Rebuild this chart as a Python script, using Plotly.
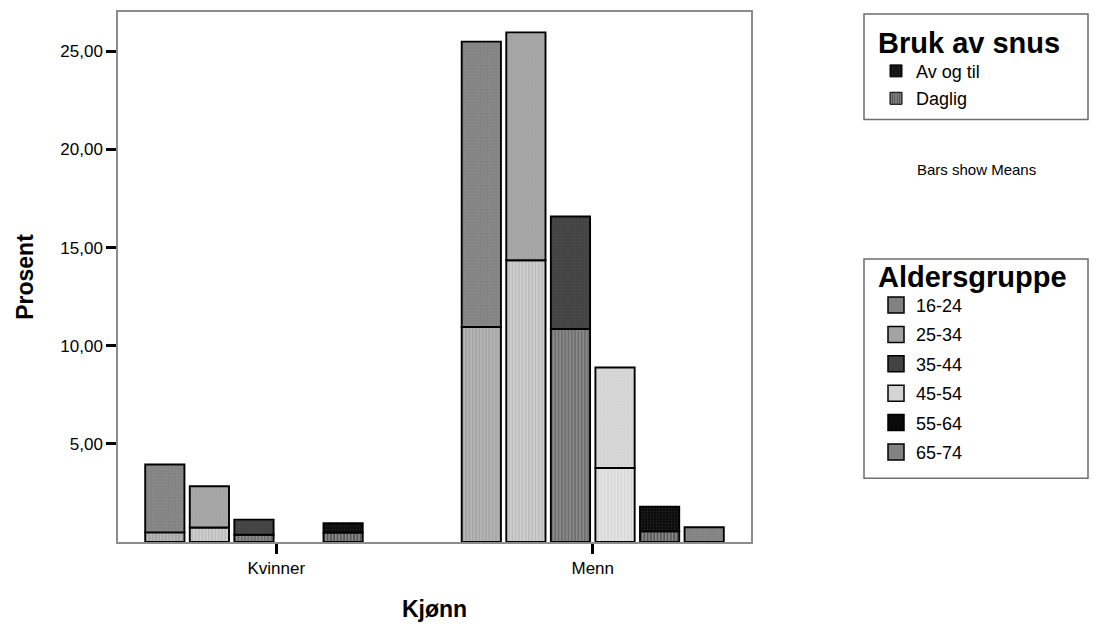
import plotly.graph_objects as go

sexes = ["Kvinner", "Menn"]
age_groups = ["16-24", "25-34", "35-44", "45-54", "55-64", "65-74"]

# Mean percent per age group (order as age_groups); None = no bar
daglig_kvinner = [0.49, 0.74, 0.37, None, 0.48, None]
av_og_til_kvinner = [3.46, 2.10, 0.77, None, 0.48, None]
daglig_menn = [10.95, 14.35, 10.85, 3.77, 0.54, None]
av_og_til_menn = [14.54, 11.61, 5.73, 5.12, 1.26, 0.75]

y_ticks = [5, 10, 15, 20, 25]

# styles
age_color = ["#828282", "#a3a3a3", "#424242", "#d4d4d4", "#0a0a0a", "#828282"]
age_dot = ["#969696", "#b2b2b2", "#565656", "#dedede", "#3a3a3a", "#969696"]
dag_bg = ["#b6b6b6", "#cfcfcf", "#8a8a8a", "#e6e6e6", "#8a8a8a", "#8a8a8a"]
dag_fg = ["#8e8e8e", "#a6a6a6", "#4a4a4a", "#c4c4c4", "#141414", "#141414"]

FONT = "Liberation Sans, Arial, sans-serif"
OFF = 8  # page body margin
W, H = 1100 - OFF, 628 - OFF
# plot area in screen pixels
SL, SR, ST, SB = 118, 751, 10, 542
L, R, T, B = SL - OFF, SR - OFF, ST - OFF, SB - OFF


def px_x(p):
    return (p - SL) / (SR - SL)


def px_y(p):
    return 1 - (p - ST) / (SB - ST)


fig = go.Figure()

for i, age in enumerate(age_groups):
    dag = [daglig_kvinner[i], daglig_menn[i]]
    avo = [av_og_til_kvinner[i], av_og_til_menn[i]]
    base = [d if d is not None else 0 for d in dag]
    fig.add_trace(go.Bar(
        x=sexes, y=dag, name=age + " Daglig", offsetgroup=age,
        legendgroup=age, showlegend=False,
        marker=dict(color=dag_bg[i], line=dict(color="#000000", width=1.9),
                    pattern=dict(shape="|", fgcolor=dag_fg[i], bgcolor=dag_bg[i],
                                 size=3.3, solidity=0.45)),
    ))
    fig.add_trace(go.Bar(
        x=sexes, y=avo, base=base, name=age + " Av og til", offsetgroup=age,
        legendgroup=age, showlegend=False,
        marker=dict(color=age_color[i], line=dict(color="#000000", width=1.9),
                    pattern=dict(shape=".", fgcolor=age_dot[i], bgcolor=age_color[i],
                                 size=3, solidity=0.3)),
    ))

# legend 1: Bruk av snus
fig.add_trace(go.Bar(
    x=[sexes[0]], y=[None], name="Av og til", offsetgroup=age_groups[0],
    legend="legend", legendgroup="avogtil",
    marker=dict(color="#0a0a0a", line=dict(color="#000000", width=1),
                pattern=dict(shape=".", fgcolor="#505050", bgcolor="#0a0a0a", size=3, solidity=0.35)),
))
fig.add_trace(go.Bar(
    x=[sexes[0]], y=[None], name="Daglig", offsetgroup=age_groups[0],
    legend="legend", legendgroup="daglig",
    marker=dict(color="#8a8a8a", line=dict(color="#000000", width=1),
                pattern=dict(shape="|", fgcolor="#141414", bgcolor="#8a8a8a", size=3, solidity=0.45)),
))

# legend 2: Aldersgruppe
for i, age in enumerate(age_groups):
    fig.add_trace(go.Scatter(
        x=[None], y=[None], mode="markers", name=age, legend="legend2",
        legendgroup=age,
        marker=dict(symbol="square", size=16, color=age_color[i],
                    line=dict(color="#000000", width=1.5)),
    ))

fig.update_layout(
    width=W, height=H,
    margin=dict(l=L, r=W - R, t=T, b=H - B, pad=0),
    paper_bgcolor="white", plot_bgcolor="white",
    barmode="group", bargap=0.155, bargroupgap=0.12,
    separators=", ",
    font=dict(family=FONT, color="#000000", size=15),
    showlegend=True,
    legend=dict(
        title=dict(text="<b>Bruk av snus</b>", font=dict(size=29, family=FONT)),
        x=px_x(876), y=px_y(13), xanchor="left", yanchor="top",
        bgcolor="rgba(0,0,0,0)", borderwidth=0,
        font=dict(size=18, family=FONT), tracegroupgap=1, itemwidth=30,
    ),
    legend2=dict(
        title=dict(text="<b>Aldersgruppe</b>", font=dict(size=29, family=FONT)),
        x=px_x(876), y=px_y(248), xanchor="left", yanchor="top",
        bgcolor="rgba(0,0,0,0)", borderwidth=0,
        font=dict(size=18, family=FONT), tracegroupgap=3, itemwidth=30,
    ),
    xaxis=dict(
        type="category", range=[-0.5, 1.5],
        showline=True, linecolor="#8c8c8c", linewidth=1.5, mirror=True,
        ticks="outside", ticklen=10, tickwidth=3, tickcolor="#000000",
        showgrid=False, zeroline=False,
        tickfont=dict(size=17, family=FONT),
        title=dict(text="<b>Kjønn</b>", font=dict(size=23, family=FONT), standoff=24),
    ),
    yaxis=dict(
        range=[0, 27], tickvals=y_ticks, tickformat=".2f",
        showline=True, linecolor="#8c8c8c", linewidth=1.5, mirror=True,
        ticks="outside", ticklen=10, tickwidth=3, tickcolor="#000000",
        showgrid=False, zeroline=False,
        tickfont=dict(size=17, family=FONT),
        title=dict(text="<b>Prosent</b>", font=dict(size=23, family=FONT), standoff=20),
        automargin=True,
    ),
    shapes=[
        dict(type="rect", xref="paper", yref="paper",
             x0=px_x(864), x1=px_x(1088), y0=px_y(12), y1=px_y(118),
             line=dict(color="#6e6e6e", width=1.5), fillcolor="rgba(0,0,0,0)", layer="below"),
        dict(type="rect", xref="paper", yref="paper",
             x0=px_x(864), x1=px_x(1088), y0=px_y(258), y1=px_y(478),
             line=dict(color="#6e6e6e", width=1.5), fillcolor="rgba(0,0,0,0)", layer="below"),
    ],
    annotations=[
        dict(text="Bars show Means", xref="paper", yref="paper",
             x=px_x(976), y=px_y(168), xanchor="center", yanchor="middle",
             showarrow=False, font=dict(size=15, family=FONT)),
    ],
)

fig.write_html("out.html")
